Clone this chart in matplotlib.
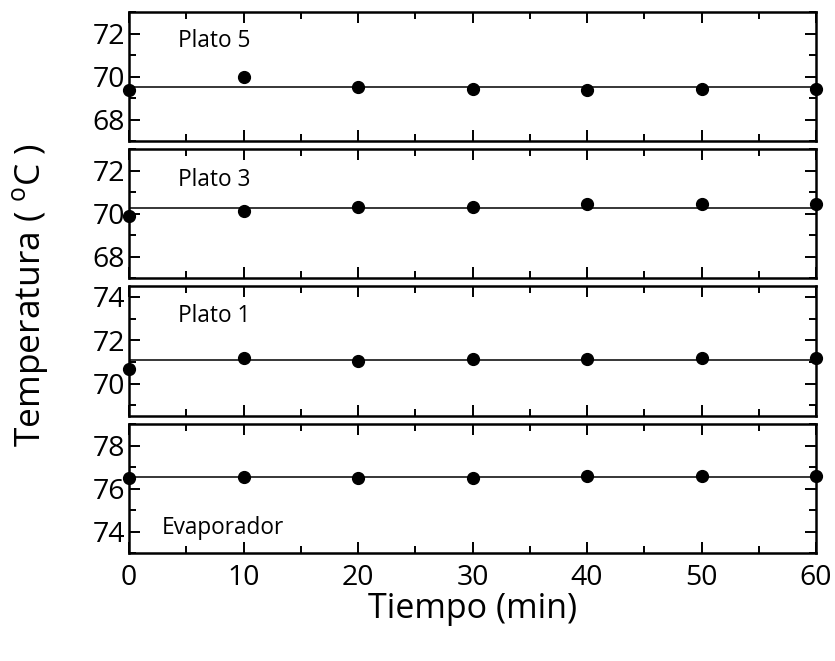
import matplotlib
matplotlib.use("Agg")
import matplotlib.pyplot as plt
import numpy as np
from matplotlib.ticker import MultipleLocator

plt.rcParams['font.family'] = ['Open Sans', 'DejaVu Sans']
plt.rcParams['mathtext.fontset'] = 'custom'
plt.rcParams['mathtext.rm'] = 'Open Sans'

tiempo = [0, 10, 20, 30, 40, 50, 60]
plato5 = [69.37, 69.98, 69.53, 69.43, 69.37, 69.40, 69.40]
plato3 = [69.90, 70.11, 70.29, 70.29, 70.42, 70.45, 70.45]
plato1 = [70.68, 71.19, 71.03, 71.14, 71.14, 71.17, 71.17]
evaporador = [76.51, 76.54, 76.48, 76.48, 76.60, 76.60, 76.60]

panels = [
    ("Plato 5", plato5, (67, 73), [68, 70, 72], (0.071, 0.775)),
    ("Plato 3", plato3, (67, 73), [68, 70, 72], (0.071, 0.76)),
    ("Plato 1", plato1, (68.5, 74.5), [70, 72, 74], (0.071, 0.77)),
    ("Evaporador", evaporador, (73, 79), [74, 76, 78], (0.048, 0.19)),
]

W, H = 835, 661
fig = plt.figure(figsize=(W / 100, H / 100), dpi=100)
fig.patch.set_facecolor('white')

left_px, right_px = 129, 816
tops = [12, 149, 286, 424]
bots = [141, 278, 416, 553]

for i, (name, vals, ylim, yt, tpos) in enumerate(panels):
    ax = fig.add_axes([left_px / W, 1 - bots[i] / H,
                       (right_px - left_px) / W, (bots[i] - tops[i]) / H])
    ax.plot(tiempo, vals, 'o', color='black', markersize=8.5, clip_on=False, zorder=3)
    ax.axhline(np.mean(vals), color='black', lw=1.1, zorder=2)
    ax.set_xlim(0, 60)
    ax.set_ylim(*ylim)
    ax.set_xticks(tiempo)
    ax.xaxis.set_minor_locator(MultipleLocator(5))
    ax.set_yticks(yt)
    ax.yaxis.set_minor_locator(MultipleLocator(1))
    ax.tick_params(which='both', direction='in', top=True, right=True, width=1.4)
    ax.tick_params(which='major', length=8, labelsize=20.5)
    ax.tick_params(which='minor', length=5)
    ax.tick_params(axis='y', pad=3)
    for s in ax.spines.values():
        s.set_linewidth(1.8)
    if i < 3:
        ax.tick_params(axis='x', labelbottom=False)
    else:
        ax.tick_params(axis='x', pad=8)
    ax.text(tpos[0], tpos[1], name, transform=ax.transAxes, fontsize=16.3,
            va='center', ha='left')

fig.text(0.5 * (left_px + right_px) / W, 1 - 609 / H, 'Tiempo (min)',
         ha='center', va='center', fontsize=24.5)
fig.text(31 / W, 1 - 295 / H, r'Temperatura ( $^{\mathrm{o}}$C )',
         ha='center', va='center', rotation=90, fontsize=25.5)

fig.savefig('out.png', dpi=100, facecolor='white')
